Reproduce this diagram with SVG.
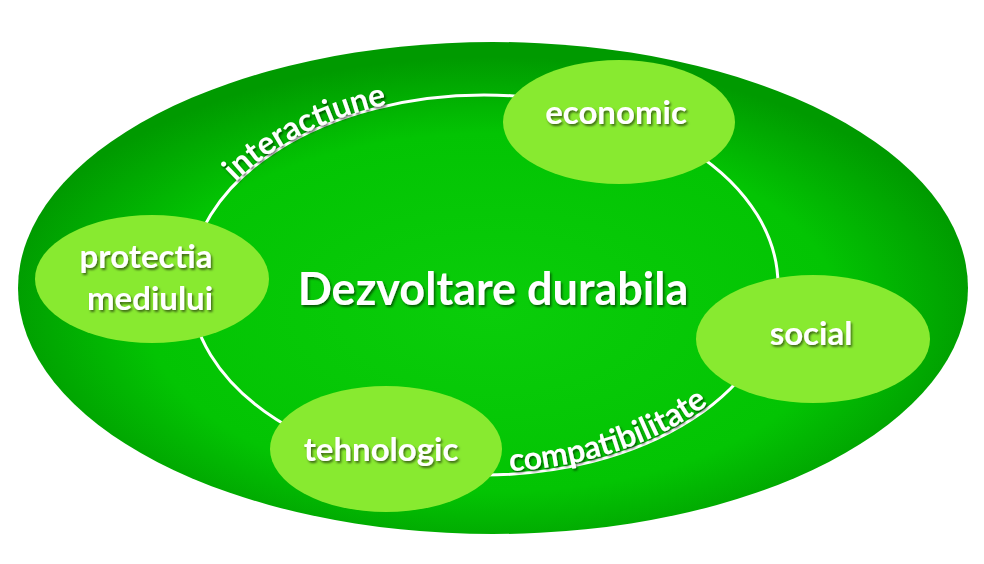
<svg xmlns="http://www.w3.org/2000/svg" width="984" height="564" viewBox="0 0 984 564">
<defs>
<radialGradient id="bg" cx="0.5" cy="0.55" r="0.52">
<stop offset="0" stop-color="#0acd0a"/>
<stop offset="0.7" stop-color="#03c403"/>
<stop offset="1" stop-color="#009a00"/>
</radialGradient>
<filter id="sh" x="-20%" y="-40%" width="140%" height="180%">
<feDropShadow dx="1.5" dy="2" stdDeviation="1.2" flood-color="#000" flood-opacity="0.55"/>
</filter>
<path id="p1" d="M 190 285 A 294 190 0 0 1 484 95"/>
<path id="p2" d="M 484 475 A 294 190 0 0 0 778 285"/>
</defs>
<style>
.node{fill:#88ea30}
.t{font-family:"Lato","Open Sans",sans-serif;font-weight:bold;fill:#fff;filter:url(#sh)}
.lbl{font-size:33px;text-anchor:middle}
.arc{font-size:32px}
</style>
<g id="background">
<ellipse cx="493" cy="288" rx="475" ry="246" fill="url(#bg)"/>
</g>
<g id="connectors">
<ellipse cx="484" cy="285" rx="294" ry="190" fill="none" stroke="#fff" stroke-width="3"/>
<text class="t arc" dy="-1"><textPath href="#p1" startOffset="115">interactiune</textPath></text>
<text class="t arc" dy="-3" font-size="33.5"><textPath href="#p2" startOffset="26">compatibilitate</textPath></text>
</g>
<g id="center">
<text class="t" x="493" y="305" font-size="45" text-anchor="middle">Dezvoltare durabila</text>
</g>
<g id="economic">
<ellipse class="node" cx="619" cy="122" rx="116" ry="62"/>
<text class="t lbl" x="616" y="124">economic</text>
</g>
<g id="protectia">
<ellipse class="node" cx="152" cy="279" rx="117" ry="64"/>
<text class="t lbl" x="146" y="268">protectia</text>
<text class="t lbl" x="150" y="310">mediului</text>
</g>
<g id="social">
<ellipse class="node" cx="813" cy="339" rx="117" ry="64"/>
<text class="t lbl" x="811" y="345">social</text>
</g>
<g id="tehnologic">
<ellipse class="node" cx="386" cy="449" rx="116" ry="63"/>
<text class="t lbl" x="381" y="461">tehnologic</text>
</g>
</svg>
